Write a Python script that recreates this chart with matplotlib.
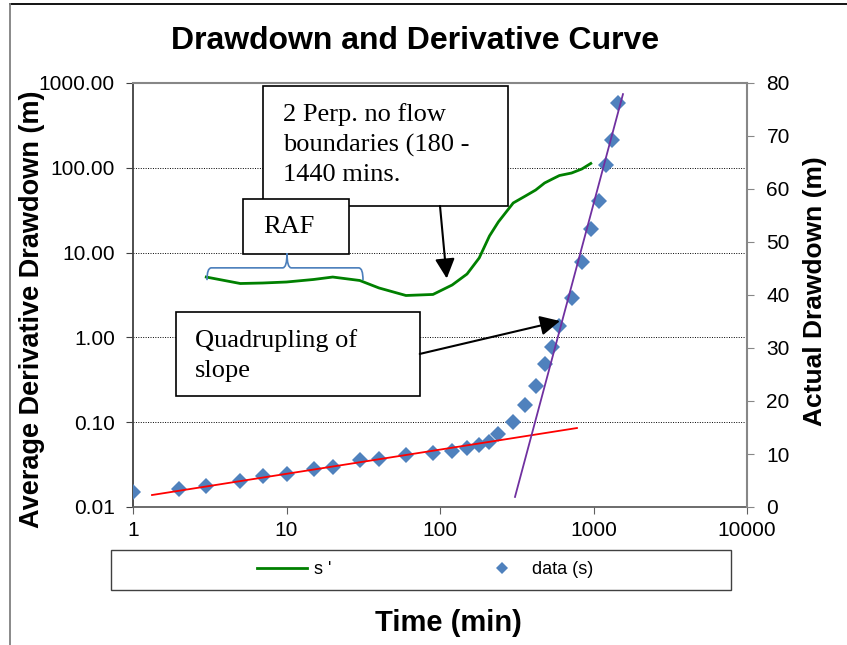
import matplotlib
matplotlib.use('Agg')
import matplotlib.pyplot as plt
from matplotlib.lines import Line2D
from matplotlib.patches import Rectangle, PathPatch
from matplotlib.path import Path
from matplotlib.ticker import FixedLocator, FixedFormatter, NullLocator

plt.rcParams['font.family'] = 'Liberation Sans'

# measured drawdown s (m) against time (min)
time_min = [1, 2, 3, 5, 7, 10, 15, 20, 30, 40, 60, 90, 120, 150, 180, 210, 240,
            300, 360, 420, 480, 540, 600, 720, 840, 960, 1080, 1200, 1320, 1440]
drawdown = [2.8, 3.4, 4.0, 4.9, 5.9, 6.2, 7.2, 7.6, 8.9, 9.1, 9.8, 10.2, 10.6, 11.1, 11.7, 12.3, 13.8,
            16.0, 19.3, 22.8, 27.0, 30.2, 34.2, 39.4, 46.2, 52.5, 57.7, 64.5, 69.3, 76.2]

# average derivative s' (m), log scale
deriv_time = [3, 5, 7, 10, 15, 20, 30, 40, 60, 90, 120, 150, 180, 210, 240,
              300, 360, 420, 480, 540, 600, 720, 840, 960]
deriv = [5.15, 4.32, 4.38, 4.50, 4.82, 5.15, 4.69, 3.83, 3.12, 3.21, 4.15, 5.59, 8.64, 15.7, 23.0,
         38.5, 46.5, 54.7, 66.2, 73.8, 81.1, 86.8, 96.9, 112.5]

# straight-line fits on the semi-log plot
early_fit_t = [1.33, 780]
early_fit_s = [2.26, 14.9]
late_fit_t = [308, 1556]
late_fit_s = [1.9, 77.9]

x_ticks = [1, 10, 100, 1000, 10000]
x_labels = ['1', '10', '100', '1000', '10000']
left_ticks = [0.01, 0.1, 1, 10, 100, 1000]
left_labels = ['0.01', '0.10', '1.00', '10.00', '100.00', '1000.00']
right_ticks = [0, 10, 20, 30, 40, 50, 60, 70, 80]

fig = plt.figure(figsize=(8.47, 6.45), dpi=100)
ax = fig.add_axes([133 / 847, 1 - 507 / 645, 614 / 847, 424 / 645])
ax.set_xscale('log')
ax.set_yscale('log')
ax.set_xlim(1, 10000)
ax.set_ylim(0.01, 1000)

green, = ax.plot(deriv_time, deriv, color='#008000', lw=2.0, label="s '")

ax2 = ax.twinx()
ax2.set_ylim(0, 80)
pts, = ax2.plot(time_min, drawdown, 'D', color='#4f81bd', ms=8.5, mew=0, label='data (s)')
ax2.plot(early_fit_t, early_fit_s, color='red', lw=1.3)
ax2.plot(late_fit_t, late_fit_s, color='#7030a0', lw=1.3)

# axes, ticks
ax.xaxis.set_major_locator(FixedLocator(x_ticks))
ax.xaxis.set_major_formatter(FixedFormatter(x_labels))
ax.yaxis.set_major_locator(FixedLocator(left_ticks))
ax.yaxis.set_major_formatter(FixedFormatter(left_labels))
ax.xaxis.set_minor_locator(NullLocator())
ax.yaxis.set_minor_locator(NullLocator())
ax2.set_yticks(right_ticks)
ax.yaxis.grid(True, ls=(0, (1, 1.5)), color='black', lw=0.7)

ax.tick_params(axis='x', direction='out', length=5, pad=5, labelsize=15, color='#606060')
ax.tick_params(axis='y', direction='out', length=5, pad=8, labelsize=15, color='#404040')
ax2.tick_params(axis='y', direction='out', length=5, pad=9, labelsize=15, color='#878787')

ax.spines['left'].set_color('#404040')
ax.spines['left'].set_linewidth(1.3)
ax.spines['bottom'].set_color('#606060')
ax.spines['bottom'].set_linewidth(1.3)
ax.spines['top'].set_color('#878787')
ax.spines['top'].set_linewidth(1.5)
ax.spines['right'].set_visible(False)
for side in ['left', 'bottom', 'top']:
    ax2.spines[side].set_visible(False)
ax2.spines['right'].set_color('#878787')
ax2.spines['right'].set_linewidth(1.5)

# labels
fig.text(415 / 847, 1 - 49 / 645, 'Drawdown and Derivative Curve', ha='center', va='baseline',
         fontsize=23, fontweight='bold')
ax.text(-0.1645, 0.467, 'Average Derivative Drawdown (m)', transform=ax.transAxes, rotation=90,
        ha='center', va='center', fontsize=19.5, fontweight='bold')
ax.text(1.111, 0.509, 'Actual Drawdown (m)', transform=ax.transAxes, rotation=90,
        ha='center', va='center', fontsize=19, fontweight='bold')
ax.text(0.514, -0.2925, 'Time (min)', transform=ax.transAxes, ha='center', va='baseline',
        fontsize=21, fontweight='bold')


# text boxes (axes fraction)
def note_box(x0, y0, x1, y1, lines, tx, ty):
    ax2.add_patch(Rectangle((x0, y0), x1 - x0, y1 - y0, transform=ax2.transAxes, fc='white',
                            ec='black', lw=1.2, zorder=5, clip_on=False))
    for i, line in enumerate(lines):
        ax2.text(tx, ty - i * 0.0708, line, transform=ax2.transAxes, family='Liberation Serif',
                 fontsize=19, va='baseline', zorder=6)


arrow = dict(arrowstyle='-|>,head_length=0.6,head_width=0.3', color='black', lw=1.5,
             shrinkA=0, shrinkB=0, mutation_scale=20)

note_box(0.2117, 0.710, 0.6107, 0.993, ['2 Perp. no flow', 'boundaries (180 -', '1440 mins.'],
         0.244, 0.910)
ax2.annotate('', xy=(0.511, 0.539), xytext=(0.500, 0.710), xycoords='axes fraction',
             arrowprops=arrow, zorder=6)

note_box(0.179, 0.597, 0.352, 0.726, ['RAF'], 0.212, 0.646)

note_box(0.070, 0.262, 0.467, 0.460, ['Quadrupling of', 'slope'], 0.101, 0.377)
ax2.annotate('', xy=(0.6954, 0.4387), xytext=(0.467, 0.361), xycoords='axes fraction',
             arrowprops=arrow, zorder=6)

# curly brace under RAF
xl, xt, xr = 0.1205, 0.2508, 0.3746
y_end, y_bar, y_tip = 0.535, 0.564, 0.599
dx = 0.007
verts = [(xl, y_end), (xl, y_bar), (xl + dx, y_bar), (xt - dx, y_bar), (xt, y_bar), (xt, y_tip),
         (xt, y_bar), (xt + dx, y_bar), (xr - dx, y_bar), (xr, y_bar), (xr, y_end)]
codes = [Path.MOVETO, Path.CURVE3, Path.CURVE3, Path.LINETO, Path.CURVE3, Path.CURVE3,
         Path.CURVE3, Path.CURVE3, Path.LINETO, Path.CURVE3, Path.CURVE3]
ax2.add_patch(PathPatch(Path(verts, codes), transform=ax2.transAxes, fill=False, ec='#4a7ebb',
                        lw=1.2, zorder=6, clip_on=False))

# legend, Excel style: box with two centred entries
fig.add_artist(Rectangle((111 / 847, 1 - 590 / 645), 620 / 847, 40 / 645, transform=fig.transFigure,
                         fill=False, ec='#404040', lw=1))
fig.legend(handles=[green], loc='center left', bbox_to_anchor=(257 / 847, 1 - 570 / 645),
           frameon=False, borderpad=0, borderaxespad=0, handlelength=2.77, handletextpad=0.4,
           fontsize=13)
fig.legend(handles=[pts], loc='center left', bbox_to_anchor=(493 / 847, 1 - 570 / 645),
           frameon=False, borderpad=0, borderaxespad=0, handlelength=1.0, handletextpad=1.15,
           fontsize=13, markerscale=0.75)

# outer frame lines
fig.add_artist(Line2D([10 / 847, 1], [1 - 4 / 645] * 2, transform=fig.transFigure, color='black', lw=1.3))
fig.add_artist(Line2D([10 / 847] * 2, [0, 1 - 4 / 645], transform=fig.transFigure, color='#808080', lw=1.3))

fig.savefig('out.png', dpi=100)
